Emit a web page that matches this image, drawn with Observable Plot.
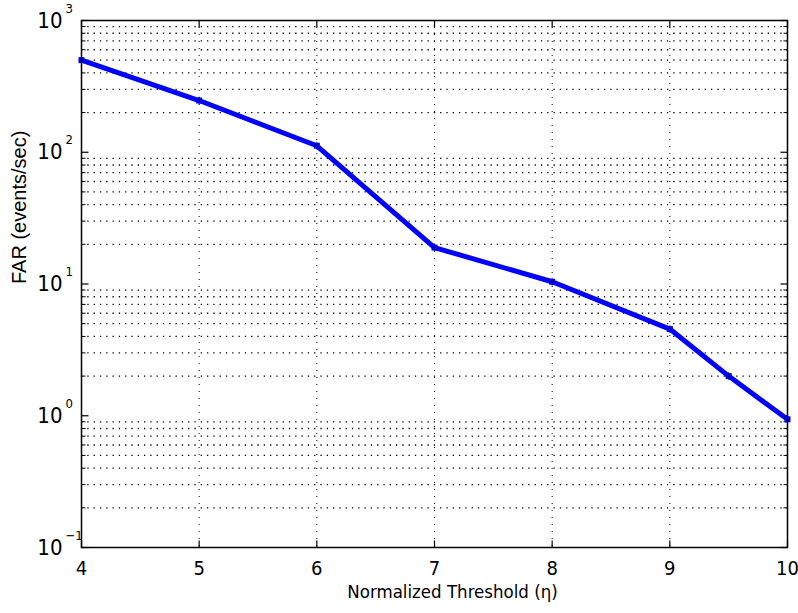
<!DOCTYPE html>
<html><head><meta charset="utf-8">
<script src="https://cdn.jsdelivr.net/npm/d3@7"></script>
<script src="https://cdn.jsdelivr.net/npm/@observablehq/plot@0.6"></script>
<style>body{margin:0;background:#fff;font-family:"Liberation Sans",Arial,sans-serif}</style>
</head><body><div id="chart"></div>
<script>
const thresholds = [4, 5, 6, 7, 8, 9, 9.5, 10];
const far = [500, 247, 112, 18.9, 10.4, 4.55, 2.0, 0.94];
const xTicks = [4, 5, 6, 7, 8, 9, 10];
const yTicks = [0.1, 1, 10, 100, 1000];
const yMinor = [];
for (const d of [0.1, 1, 10, 100]) for (let k = 2; k <= 9; k++) yMinor.push(+(d * k).toPrecision(3));
const xGrid = [5, 6, 7, 8, 9];
const data = thresholds.map((t, i) => ({t, v: far[i]}));
const expLabel = v => { const e = Math.round(Math.log10(v)); return e < 0 ? "\u2212" + (-e) : String(e); };
const narrow = "'Liberation Sans Narrow', 'DejaVu Sans Condensed', 'Liberation Sans', sans-serif";
const regular = "'Liberation Sans', Arial, sans-serif";

// custom tick symbols (length in px)
const hTick = len => ({draw(ctx) { ctx.moveTo(0, 0); ctx.lineTo(len, 0); }});
const vTick = len => ({draw(ctx) { ctx.moveTo(0, 0); ctx.lineTo(0, len); }});
const plusSym = {draw(ctx) { ctx.moveTo(0, -4); ctx.lineTo(0, 4); ctx.moveTo(-2, 0); ctx.lineTo(2, 0); }};

const chart = Plot.plot({
  width: 798, height: 613,
  marginLeft: 81, marginRight: 11, marginTop: 20, marginBottom: 66,
  style: {fontFamily: regular, background: "#fff"},
  x: {domain: [4, 10], axis: null},
  y: {type: "log", domain: [0.1, 1000], axis: null},
  marks: [
    Plot.ruleY(yMinor, {stroke: "#000", strokeWidth: 1.3, strokeDasharray: "1.3,5"}),
    Plot.ruleX(xGrid, {stroke: "#000", strokeWidth: 1, strokeDasharray: "1,6"}),
    // minor ticks on left and right
    Plot.dot(yMinor, {x: () => 4, y: d => d, symbol: hTick(4), stroke: "#000", strokeWidth: 1}),
    Plot.dot(yMinor, {x: () => 10, y: d => d, symbol: hTick(-4), stroke: "#000", strokeWidth: 1}),
    // major ticks
    Plot.dot(yTicks, {x: () => 4, y: d => d, symbol: hTick(7), stroke: "#000", strokeWidth: 1.2}),
    Plot.dot(yTicks, {x: () => 10, y: d => d, symbol: hTick(-7), stroke: "#000", strokeWidth: 1.2}),
    Plot.dot(xTicks, {x: d => d, y: () => 0.1, symbol: vTick(-7), stroke: "#000", strokeWidth: 1.2}),
    Plot.dot(xTicks, {x: d => d, y: () => 1000, symbol: vTick(7), stroke: "#000", strokeWidth: 1.2}),
    Plot.line(data, {x: "t", y: "v", stroke: "#0000ff", strokeWidth: 5}),
    Plot.dot(data, {x: "t", y: "v", symbol: "square", r: 3.4, fill: "#0000ff"}),
    Plot.dot(data, {x: "t", y: "v", symbol: plusSym, stroke: "#000066", strokeWidth: 1, strokeOpacity: 0.7}),
    Plot.frame({stroke: "#000", strokeWidth: 1.5}),
    Plot.text(xTicks, {x: d => d, y: () => 0.1, text: d => String(d), dy: 21, fontSize: 20, fontFamily: narrow, fill: "#000"}),
    // y tick labels 10^e
    Plot.text(yTicks, {x: () => 4, y: d => d, text: () => "10", dx: -19, dy: 0, fontSize: 22, fontFamily: narrow, fill: "#000", textAnchor: "end"}),
    Plot.text(yTicks, {x: () => 4, y: d => d, text: d => expLabel(d), dx: -16, dy: -12, fontSize: 13, fontFamily: narrow, fill: "#000", textAnchor: "start"}),
    Plot.text(["Normalized Threshold (\u03b7)"], {frameAnchor: "bottom", dx: 18, dy: 50, fontSize: 18.5, fontFamily: narrow, fill: "#000", text: d => d}),
    Plot.text(["FAR (events/sec)"], {frameAnchor: "left", dx: -62, rotate: -90, fontSize: 20, fill: "#000", text: d => d})
  ]
});
document.getElementById("chart").append(chart);
</script>
</body></html>
